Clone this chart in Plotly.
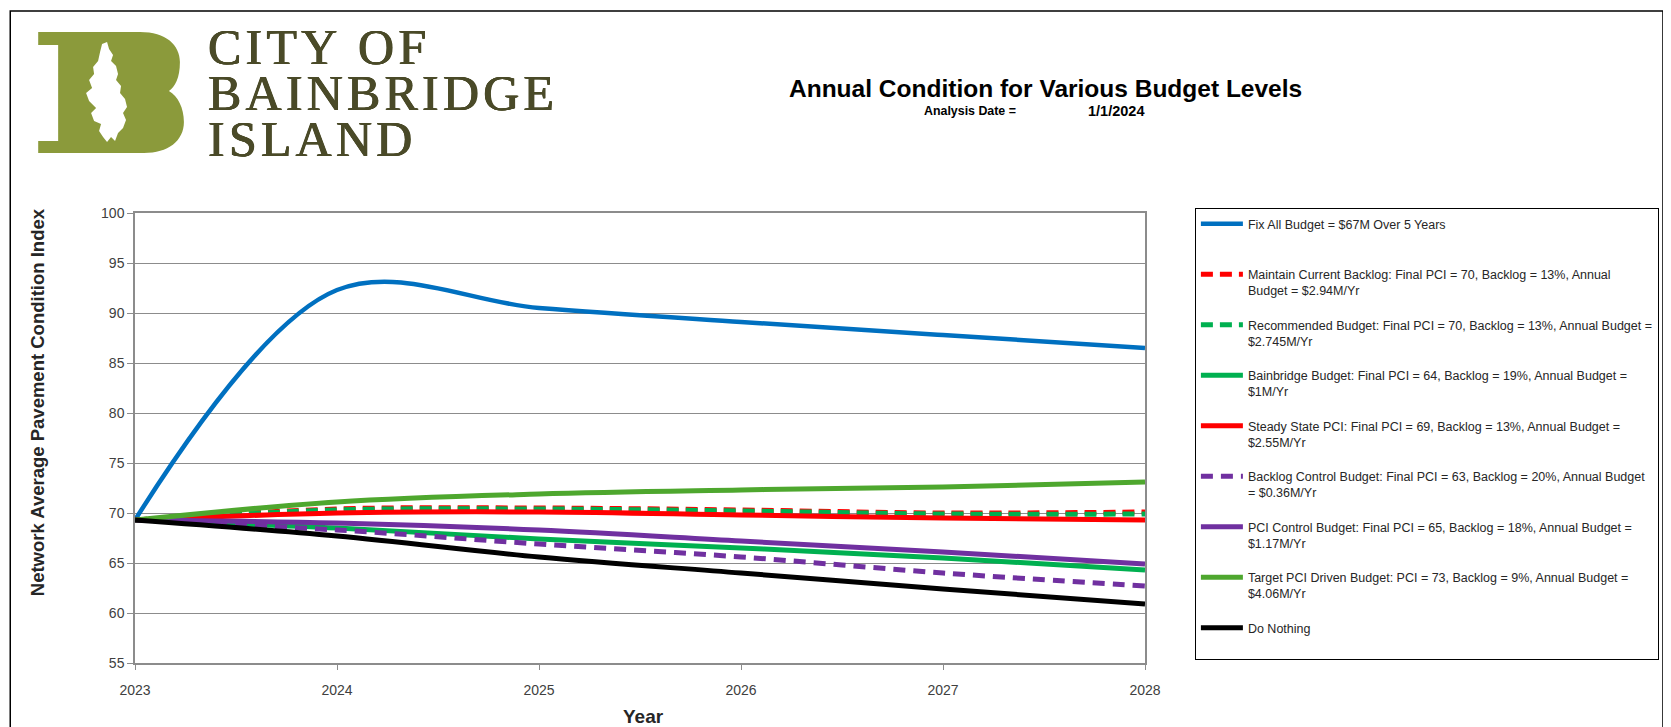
import plotly.graph_objects as go

# ---------------- data ----------------
years = [2023, 2024, 2025, 2026, 2027, 2028]
fix_all = [69.3, 92.3, 90.5, 89.1, 87.8, 86.5]
maintain_backlog = [69.3, 70.4, 70.5, 70.3, 70.0, 70.1]
recommended = [69.3, 70.3, 70.4, 70.2, 69.9, 69.9]
bainbridge = [69.3, 68.5, 67.4, 66.5, 65.5, 64.3]
steady_state = [69.3, 70.0, 70.1, 69.8, 69.5, 69.3]
backlog_control = [69.3, 68.3, 66.9, 65.6, 64.0, 62.7]
pci_control = [69.3, 69.0, 68.3, 67.2, 66.1, 64.9]
target_pci = [69.3, 71.1, 71.9, 72.3, 72.6, 73.1]
do_nothing = [69.3, 67.7, 65.6, 64.0, 62.4, 60.9]

series_names = [
    "Fix All Budget = $67M Over 5 Years<br> ",
    "Maintain Current Backlog: Final PCI = 70, Backlog = 13%, Annual<br>Budget = $2.94M/Yr",
    "Recommended Budget: Final PCI = 70, Backlog = 13%, Annual Budget =<br>$2.745M/Yr",
    "Bainbridge Budget: Final PCI = 64, Backlog = 19%, Annual Budget =<br>$1M/Yr",
    "Steady State PCI: Final PCI = 69, Backlog = 13%, Annual Budget =<br>$2.55M/Yr",
    "Backlog Control Budget: Final PCI = 63, Backlog = 20%, Annual Budget<br>= $0.36M/Yr",
    "PCI Control Budget: Final PCI = 65, Backlog = 18%, Annual Budget =<br>$1.17M/Yr",
    "Target PCI Driven Budget: PCI = 73, Backlog = 9%, Annual Budget =<br>$4.06M/Yr",
    "Do Nothing<br> ",
]
series_values = [fix_all, maintain_backlog, recommended, bainbridge, steady_state,
                 backlog_control, pci_control, target_pci, do_nothing]
series_colors = ["#0070C0", "#FF0000", "#00B050", "#00B050", "#FF0000",
                 "#7030A0", "#7030A0", "#4EA72E", "#000000"]
series_dash = ["solid", "12px,7px", "12px,7px", "solid", "solid",
               "12px,8px", "solid", "solid", "solid"]
series_width = [4.5, 5, 5, 5, 5, 5, 5, 5, 5]

x_ticks = [2023, 2024, 2025, 2026, 2027, 2028]
y_ticks = [55, 60, 65, 70, 75, 80, 85, 90, 95, 100]

# ---------------- geometry helpers (page pixels -> paper) ----------------
PAGE_W, PAGE_H = 1671, 727
OFF = 8  # default body margin of the page
W, H = PAGE_W - OFF, PAGE_H - OFF
L, R, T, B = 135, 1147, 213, 663  # plot area in page pixels


def xp(px):
    return (px - L) / (R - L)


def yp(py):
    return (B - py) / (B - T)


def path_from(cmds):
    out = []
    for cmd, pts in cmds:
        if cmd == "L":
            for x, y in pts:
                out.append(f"L{xp(x):.5f},{yp(y):.5f}")
        else:
            coords = " ".join(f"{xp(x):.5f},{yp(y):.5f}" for x, y in pts)
            out.append(f"{cmd}{coords}")
    return " ".join(out) + " Z"


fig = go.Figure()
for name, vals, col, dash, w in zip(series_names, series_values, series_colors,
                                    series_dash, series_width):
    fig.add_trace(go.Scatter(
        x=years, y=vals, name=name, mode="lines", legendgroup=name,
        line=dict(color=col, width=w, dash=dash, shape="spline", smoothing=1.0),
    ))

grid_col = "#8C8C8C"
sans = "Liberation Sans, Arial, sans-serif"
tick_font = dict(family=sans, size=14, color="#404040")

fig.update_layout(
    width=W, height=H, autosize=False,
    margin=dict(l=L - OFF, r=PAGE_W - R, t=T - OFF, b=PAGE_H - B, pad=0),
    paper_bgcolor="white", plot_bgcolor="white",
    showlegend=True,
    legend=dict(
        x=xp(1197), y=yp(208), xanchor="left", yanchor="top",
        bgcolor="white", bordercolor="#000000", borderwidth=1,
        font=dict(family=sans, size=12.5, color="#262626"),
        valign="top", tracegroupgap=15, itemwidth=42, traceorder="grouped",
        maxheight=480,
    ),
    xaxis=dict(
        range=[2023, 2028], tickvals=x_ticks, ticktext=[str(v) for v in x_ticks],
        showgrid=False, zeroline=False,
        showline=True, linecolor=grid_col, linewidth=1.5, mirror=True,
        ticks="outside", ticklen=5, tickcolor=grid_col, tickwidth=1,
        tickfont=tick_font, ticklabelstandoff=8,
    ),
    yaxis=dict(
        range=[55, 100], tickvals=y_ticks,
        showgrid=True, gridcolor=grid_col, gridwidth=1.3, zeroline=False,
        showline=True, linecolor=grid_col, linewidth=1.5, mirror=True,
        ticks="outside", ticklen=6, tickcolor=grid_col, tickwidth=1,
        tickfont=tick_font,
    ),
)


def note(text, x, y, size, color="#000000", xanchor="center", family=sans, angle=0,
         yanchor="middle", shadow="none"):
    fig.add_annotation(
        text=text, x=xp(x), y=yp(y), xref="paper", yref="paper",
        xanchor=xanchor, yanchor=yanchor, showarrow=False, textangle=angle,
        align="left", font=dict(family=family, size=size, color=color, shadow=shadow),
    )


# axis titles
note("<b>Network Average Pavement Condition Index</b>", 37, 402, 18.5, "#262626", angle=-90)
note("<b>Year</b>", 645, 716, 19, "#262626")

# chart title
note("<b>Annual Condition for Various Budget Levels</b>", 1047, 88, 24.5)
note("<b>Analysis Date =</b>", 924, 111, 12.4, xanchor="left")
note("<b>1/1/2024</b>", 1088, 111, 14.5, xanchor="left")

# logo: big B with island silhouette
logo_green = "#8B9A3B"
b_path = path_from([
    ("M", [(38, 32)]),
    ("L", [(140, 32)]),
    ("C", [(166, 32), (180, 45), (180, 62)]),
    ("C", [(180, 78), (175, 87), (169, 91)]),
    ("C", [(178, 96), (184, 108), (184, 122)]),
    ("C", [(184, 141), (168, 153), (144, 153)]),
    ("L", [(38, 153), (38, 141), (58, 141), (58, 45), (38, 45)]),
])
fig.add_shape(type="path", path=b_path, xref="paper", yref="paper",
              fillcolor=logo_green, line=dict(width=0), layer="above")
island = [(102, 44), (107, 42), (109, 49), (113, 55), (111, 61), (116, 66), (118, 74),
          (116, 80), (121, 86), (120, 93), (125, 99), (127, 107), (123, 113), (126, 120),
          (123, 128), (118, 133), (115, 141), (111, 137), (107, 142), (103, 137), (99, 131),
          (101, 124), (94, 121), (91, 113), (96, 108), (89, 101), (86, 93), (92, 88), (89, 80),
          (94, 74), (93, 67), (98, 61), (100, 52)]
island_path = path_from([("M", [island[0]]), ("L", island[1:])])
fig.add_shape(type="path", path=island_path, xref="paper", yref="paper",
              fillcolor="white", line=dict(width=0), layer="above")

# logo words: one text block, 46px line pitch, 50px letters, loose tracking
hs = "\u200a"
logo_col = "#4A4A28"
logo_lines = ["CITY OF", "BAINBRIDGE", "ISLAND"]
logo_text = "<br>".join(
    '<span style="font-size:50px">' + hs.join(list(t)) + "</span>" for t in logo_lines)
note(logo_text, 206, 93, 35.4, logo_col, xanchor="left",
     family="Liberation Serif, Times New Roman, serif",
     shadow=f"0.6px 0px 0px {logo_col}, -0.4px 0px 0px {logo_col}, 0px 0.4px 0px {logo_col}")

# outer frame
fig.add_shape(type="rect", xref="paper", yref="paper",
              x0=xp(10), x1=xp(1666), y0=yp(760), y1=yp(11),
              line=dict(color="#000000", width=1.5), fillcolor="rgba(0,0,0,0)",
              layer="below")

fig.write_html("out.html")
